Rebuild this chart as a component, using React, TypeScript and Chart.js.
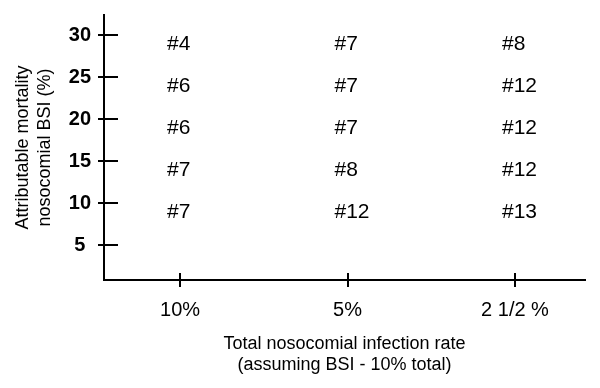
import React, { useEffect, useRef } from "react";
import { Chart, registerables } from "chart.js";

Chart.register(...registerables);

// ---- data ----
const categories = ["10%", "5%", "2 1/2 %"];
const mortalityLevels = [30, 25, 20, 15, 10];
const yTickValues = [5, 10, 15, 20, 25, 30];
const labels10 = ["#4", "#6", "#6", "#7", "#7"];
const labels5 = ["#7", "#7", "#7", "#8", "#12"];
const labels25 = ["#8", "#12", "#12", "#12", "#13"];
const columns = [labels10, labels5, labels25];

const yTitle = ["Attributable mortality", "nosocomial BSI (%)"];
const xTitle = ["Total nosocomial infection rate", "(assuming BSI - 10% total)"];

const FONT = "'Liberation Sans', Arial, sans-serif";

const marksPlugin = {
  id: "marks",
  afterDraw(chart: any) {
    const ctx = chart.ctx;
    const xs = chart.scales.x;
    const ys = chart.scales.y;
    const area = chart.chartArea;
    ctx.save();
    ctx.strokeStyle = "#000";
    ctx.lineWidth = 2;
    // y ticks (cross the axis, longer inside)
    ys.ticks.forEach((t: any) => {
      const py = Math.round(ys.getPixelForValue(t.value));
      ctx.beginPath();
      ctx.moveTo(area.left - 6, py);
      ctx.lineTo(area.left + 14, py);
      ctx.stroke();
    });
    // x ticks (cross the axis)
    xs.ticks.forEach((t: any) => {
      const px = Math.round(xs.getPixelForValue(t.value));
      ctx.beginPath();
      ctx.moveTo(px, area.bottom - 7);
      ctx.lineTo(px, area.bottom + 7);
      ctx.stroke();
    });
    // cell labels
    ctx.fillStyle = "#000";
    ctx.font = `21px ${FONT}`;
    ctx.textAlign = "left";
    ctx.textBaseline = "alphabetic";
    chart.data.datasets.forEach((ds: any, di: number) => {
      const meta = chart.getDatasetMeta(di);
      meta.data.forEach((pt: any, i: number) => {
        ctx.fillText(ds.cellLabels[i], pt.x - 13, pt.y + 15);
      });
    });
    ctx.restore();
  },
};

export default function App() {
  const ref = useRef<HTMLCanvasElement>(null);
  useEffect(() => {
    if (!ref.current) return;
    const chart = new Chart(ref.current, {
      type: "scatter",
      data: {
        datasets: columns.map((col, ci) => ({
          data: mortalityLevels.map((y) => ({ x: ci, y })),
          cellLabels: col,
          pointRadius: 0,
          pointHoverRadius: 0,
          showLine: false,
        })) as any,
      },
      options: {
        animation: false,
        responsive: false,
        events: [],
        layout: { padding: { top: 15, right: 15, left: 0, bottom: 0 } },
        plugins: { legend: { display: false }, tooltip: { enabled: false } },
        scales: {
          x: {
            type: "linear",
            position: "bottom",
            min: -0.454,
            max: 2.418,
            afterBuildTicks: (s: any) => {
              s.ticks = categories.map((_, i) => ({ value: i }));
            },
            afterFit: (s: any) => {
              s.height = 108;
              s.paddingLeft = 0;
              s.paddingRight = 0;
            },
            grid: { display: false, drawTicks: false },
            border: { display: true, color: "#000", width: 2 },
            ticks: {
              color: "#000",
              font: { family: FONT, size: 20 },
              padding: 18,
              maxRotation: 0,
              autoSkip: false,
              callback: (v: any) => categories[v] ?? "",
            },
            title: {
              display: true,
              text: xTitle,
              color: "#000",
              font: { family: FONT, size: 18, lineHeight: 1.2 },
              padding: { top: 0, bottom: 12 },
            },
          },
          y: {
            type: "linear",
            position: "left",
            min: 0.833,
            max: 32.38,
            afterBuildTicks: (s: any) => {
              s.ticks = yTickValues.map((v) => ({ value: v }));
            },
            afterFit: (s: any) => {
              s.width = 104;
              s.paddingTop = 0;
              s.paddingBottom = 0;
            },
            grid: { display: false, drawTicks: false },
            border: { display: true, color: "#000", width: 2 },
            ticks: {
              color: "#000",
              font: { family: FONT, size: 20, weight: "bold" },
              padding: 13,
              crossAlign: "center",
              callback: (v: any) => String(v),
            },
            title: {
              display: true,
              text: yTitle,
              color: "#000",
              font: { family: FONT, size: 18, lineHeight: 1.22 },
              padding: { top: 12, bottom: 0 },
            },
          },
        },
      },
      plugins: [marksPlugin],
    });
    return () => chart.destroy();
  }, []);
  return (
    <div style={{ position: "fixed", left: 0, top: 0, width: 600, height: 388, background: "#fff" }}>
      <canvas ref={ref} width={600} height={388} style={{ display: "block" }} />
    </div>
  );
}
